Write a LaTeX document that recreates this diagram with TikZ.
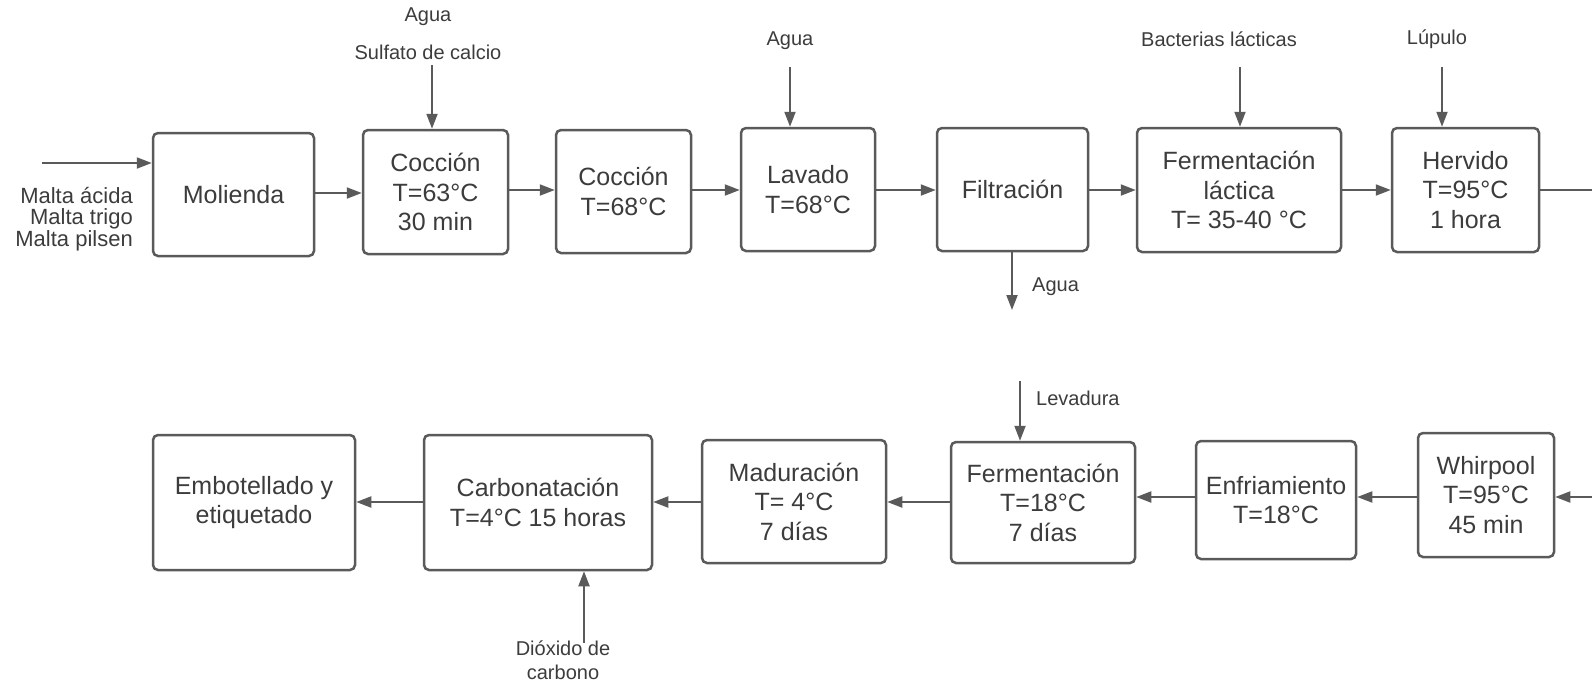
\documentclass[tikz,border=0pt]{standalone}
\usepackage{fontspec}
\setmainfont{Liberation Sans}
\usetikzlibrary{arrows.meta}
\definecolor{ln}{HTML}{5A5A5A}
\definecolor{tx}{HTML}{3C3C3C}
\begin{document}
\begin{tikzpicture}[x=1pt,y=-1pt,
 box/.style={draw=ln, line width=2.5pt, rounded corners=5pt, align=center, text=tx,
   font=\fontsize{25}{29.5}\selectfont, inner sep=0pt},
 arr/.style={draw=ln, line width=2pt, -{Triangle[length=15pt,width=11pt]}},
 plain/.style={draw=ln, line width=2pt},
 lbl/.style={text=tx, font=\fontsize{20}{24}\selectfont, inner sep=0pt, align=center}]
\useasboundingbox (0,0) rectangle (1592,686);
% row 1
\node[box, minimum width=161pt, minimum height=123pt] (mol) at (233.5,194.5) {Molienda};
\node[box, minimum width=145pt, minimum height=124pt] (c1) at (435.5,192) {Cocción\\T=63°C\\30 min};
\node[box, minimum width=135pt, minimum height=123pt] (c2) at (623.5,191.5) {Cocción\\T=68°C};
\node[box, minimum width=134pt, minimum height=123pt] (lav) at (808,189.5) {Lavado\\T=68°C};
\node[box, minimum width=151pt, minimum height=123pt] (fil) at (1012.5,189.5) {Filtración};
\node[box, minimum width=204pt, minimum height=124pt] (fl) at (1239,190) {Fermentación\\láctica\\T= 35-40 °C};
\node[box, minimum width=147pt, minimum height=124pt] (her) at (1465.5,190) {Hervido\\T=95°C\\1 hora};
% row 2
\node[box, minimum width=136pt, minimum height=124pt] (whi) at (1486,495) {Whirpool\\T=95°C\\45 min};
\node[box, minimum width=160pt, minimum height=118pt] (enf) at (1276,500) {Enfriamiento\\T=18°C};
\node[box, minimum width=184pt, minimum height=121pt] (fer) at (1043,502.5) {Fermentación\\T=18°C\\7 días};
\node[box, minimum width=184pt, minimum height=123pt] (mad) at (794,501.5) {Maduración\\T= 4°C\\7 días};
\node[box, minimum width=228pt, minimum height=135pt] (car) at (538,502.5) {Carbonatación\\T=4°C 15 horas};
\node[box, minimum width=202pt, minimum height=135pt] (emb) at (254,502.5) {Embotellado y\\etiquetado};
% labels
\node[lbl, anchor=east, align=right, font=\fontsize{22}{21.5}\selectfont] (malta) at (133,219) {Malta ácida\\Malta trigo\\Malta pilsen};
\node[lbl] (agua1) at (428,17) {Agua};
\node[lbl] (sulf) at (428,52) {Sulfato de calcio};
\node[lbl] (agua2) at (790,41) {Agua};
\node[lbl] (bact) at (1219,39) {Bacterias lácticas};
\node[lbl] (lup) at (1437,39) {Lúpulo};
\node[lbl, anchor=west] (agua3) at (1032,287) {Agua};
\node[lbl, anchor=west] (lev) at (1036,398) {Levadura};
\node[lbl, anchor=north] (dio) at (563,641) {Dióxido de\\carbono};
% free ends
\coordinate (inM) at (42,163);
\coordinate (inC1) at (432,65);
\coordinate (inL) at (790,67);
\coordinate (inB) at (1240,67);
\coordinate (inH) at (1442,67);
\coordinate (outA) at (1012,310);
\coordinate (inLev) at (1020,381);
\coordinate (inD) at (584,643);
\coordinate (edge1) at (1592,190);
\coordinate (edge2) at (1592,497);
% row 1 connectors
\draw[arr] (inM) -- (inM -| mol.west);
\draw[arr] (mol.east |- 0,193) -- (c1.west |- 0,193);
\draw[arr] (c1.east |- 0,190) -- (c2.west |- 0,190);
\draw[arr] (c2.east |- 0,190) -- (lav.west |- 0,190);
\draw[arr] (lav.east |- 0,190) -- (fil.west |- 0,190);
\draw[arr] (fil.east |- 0,190) -- (fl.west |- 0,190);
\draw[arr] (fl.east |- 0,190) -- (her.west |- 0,190);
\draw[plain] (her.east |- edge1) -- (edge1);
\draw[arr] (inC1) -- (inC1 |- c1.north);
\draw[arr] (inL) -- (inL |- lav.north);
\draw[arr] (inB) -- (inB |- fl.north);
\draw[arr] (inH) -- (inH |- her.north);
\draw[arr] (outA |- fil.south) -- (outA);
% row 2 connectors
\draw[arr] (edge2) -- (edge2 -| whi.east);
\draw[arr] (whi.west |- 0,497) -- (enf.east |- 0,497);
\draw[arr] (enf.west |- 0,497) -- (fer.east |- 0,497);
\draw[arr] (fer.west |- 0,502) -- (mad.east |- 0,502);
\draw[arr] (mad.west |- 0,502) -- (car.east |- 0,502);
\draw[arr] (car.west |- 0,502) -- (emb.east |- 0,502);
\draw[arr] (inLev) -- (inLev |- fer.north);
\draw[arr] (inD) -- (inD |- car.south);
\end{tikzpicture}
\end{document}
